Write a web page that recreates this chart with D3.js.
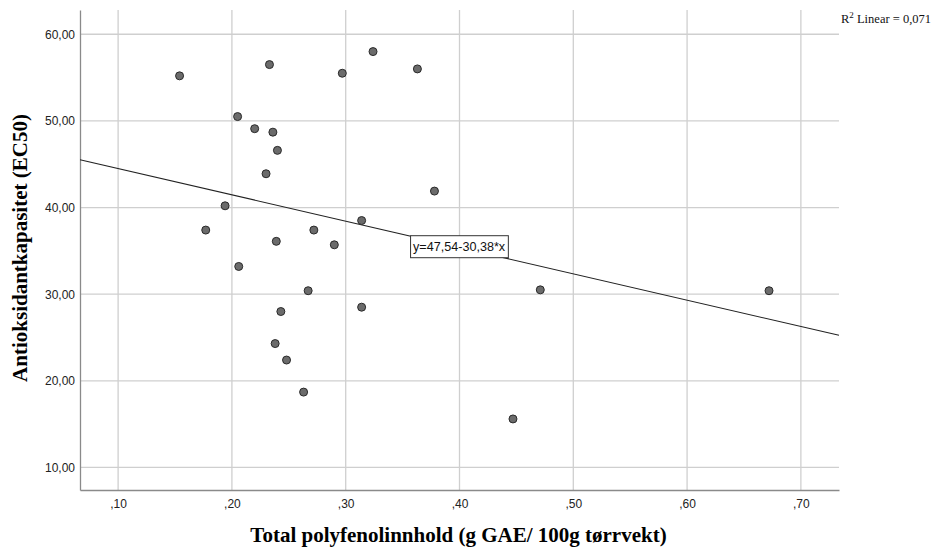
<!DOCTYPE html>
<html>
<head>
<meta charset="utf-8">
<script src="https://cdn.jsdelivr.net/npm/d3@7"></script>
<style>
  body { margin: 0; background: #fff; }
  .tick text { font-family: "Liberation Sans", Arial, sans-serif; font-size: 12px; fill: #222; }
</style>
</head>
<body>
<div id="myChart"></div>
<script>
// polyfenol (x) og EC50 (y)
const polyfenol = [0.154, 0.233, 0.297, 0.324, 0.363, 0.205, 0.220, 0.236, 0.240, 0.230,
  0.378, 0.194, 0.177, 0.272, 0.314, 0.239, 0.290, 0.206, 0.267, 0.314,
  0.243, 0.238, 0.248, 0.263, 0.447, 0.471, 0.672];
const ec50 = [55.2, 56.5, 55.5, 58.0, 56.0, 50.5, 49.1, 48.7, 46.6, 43.9,
  41.9, 40.2, 37.4, 37.4, 38.5, 36.1, 35.7, 33.2, 30.4, 28.5,
  28.0, 24.3, 22.4, 18.7, 15.6, 30.5, 30.4];
const xTicks = [0.1, 0.2, 0.3, 0.4, 0.5, 0.6, 0.7];
const yTicks = [10, 20, 30, 40, 50, 60];
const intercept = 47.54, slope = -30.38;
const rSquared = "0,071";

const W = 935, H = 548;
const margin = { top: 10, right: 96, bottom: 58, left: 80 },
  width = W - margin.left - margin.right,
  height = H - margin.top - margin.bottom;

const svg = d3.select("#myChart").append("svg")
  .attr("width", W).attr("height", H)
  .append("g")
  .attr("transform", "translate(" + margin.left + "," + margin.top + ")");

const x = d3.scaleLinear().domain([0.0665, 0.7335]).range([0, width]);
const y = d3.scaleLinear().domain([7.4, 62.8]).range([height, 0]);

// gridlines
svg.append("g").selectAll("line").data(yTicks).enter().append("line")
  .attr("x1", 0).attr("x2", width)
  .attr("y1", d => y(d)).attr("y2", d => y(d))
  .attr("stroke", "#cfcfcf").attr("stroke-width", 1.3);
svg.append("g").selectAll("line").data(xTicks).enter().append("line")
  .attr("y1", 0).attr("y2", height)
  .attr("x1", d => x(d)).attr("x2", d => x(d))
  .attr("stroke", "#cfcfcf").attr("stroke-width", 1.3);

// axes
const fx = d => d3.format(".2f")(d).replace("0.", ",");
const fy = d => d3.format(".2f")(d).replace(".", ",");
const gx = svg.append("g").attr("transform", "translate(0," + height + ")")
  .call(d3.axisBottom(x).tickValues(xTicks).tickFormat(fx).tickSize(0).tickPadding(9));
const gy = svg.append("g")
  .call(d3.axisLeft(y).tickValues(yTicks).tickFormat(fy).tickSize(0).tickPadding(5));
gx.select(".domain").attr("stroke", "#8a8a8a").attr("stroke-width", 1.3);
gy.select(".domain").attr("stroke", "#8a8a8a").attr("stroke-width", 1.3);

// regresjonslinje
svg.append("line")
  .attr("x1", x(x.domain()[0])).attr("y1", y(intercept + slope * x.domain()[0]))
  .attr("x2", x(x.domain()[1])).attr("y2", y(intercept + slope * x.domain()[1]))
  .attr("stroke", "#222").attr("stroke-width", 1.1);

// punkter
svg.selectAll(".dot").data(polyfenol).enter().append("circle")
  .attr("class", "dot")
  .attr("cx", d => x(d))
  .attr("cy", (d, i) => y(ec50[i]))
  .attr("r", 4)
  .attr("fill", "#6b6b6b")
  .attr("stroke", "#2a2a2a")
  .attr("stroke-width", 1);

// likning-boks
const eq = svg.append("g").attr("transform", "translate(" + x(0.357) + "," + y(36.75) + ")");
const eqText = eq.append("text")
  .attr("x", 2.5).attr("y", 15.5)
  .style("font-family", "Liberation Sans, Arial, sans-serif")
  .style("font-size", "12.6px")
  .attr("fill", "#111")
  .text("y=47,54-30,38*x");
const bb = eqText.node().getBBox();
eq.insert("rect", "text")
  .attr("x", 0).attr("y", 0)
  .attr("width", bb.width + 5).attr("height", 22)
  .attr("fill", "#fff").attr("stroke", "#333").attr("stroke-width", 1);

// R2
const r2 = svg.append("text")
  .attr("x", width + 2).attr("y", 13)
  .style("font-family", "Liberation Serif, Times New Roman, serif")
  .style("font-size", "12.5px")
  .attr("fill", "#111");
r2.append("tspan").text("R");
r2.append("tspan").attr("dy", -5).style("font-size", "9px").text("2");
r2.append("tspan").attr("dy", 5).text(" Linear = " + rSquared);

// aksetitler
svg.append("text")
  .attr("x", width / 2 - 1).attr("y", height + 52)
  .attr("text-anchor", "middle")
  .style("font-family", "Liberation Serif, Times New Roman, serif")
  .style("font-weight", "bold").style("font-size", "21px")
  .text("Total polyfenolinnhold (g GAE/ 100g tørrvekt)");

svg.append("text")
  .attr("transform", "rotate(-90)")
  .attr("x", -height / 2 + 2).attr("y", -53)
  .attr("text-anchor", "middle")
  .style("font-family", "Liberation Serif, Times New Roman, serif")
  .style("font-weight", "bold").style("font-size", "21px")
  .text("Antioksidantkapasitet (EC50)");
</script>
</body>
</html>
